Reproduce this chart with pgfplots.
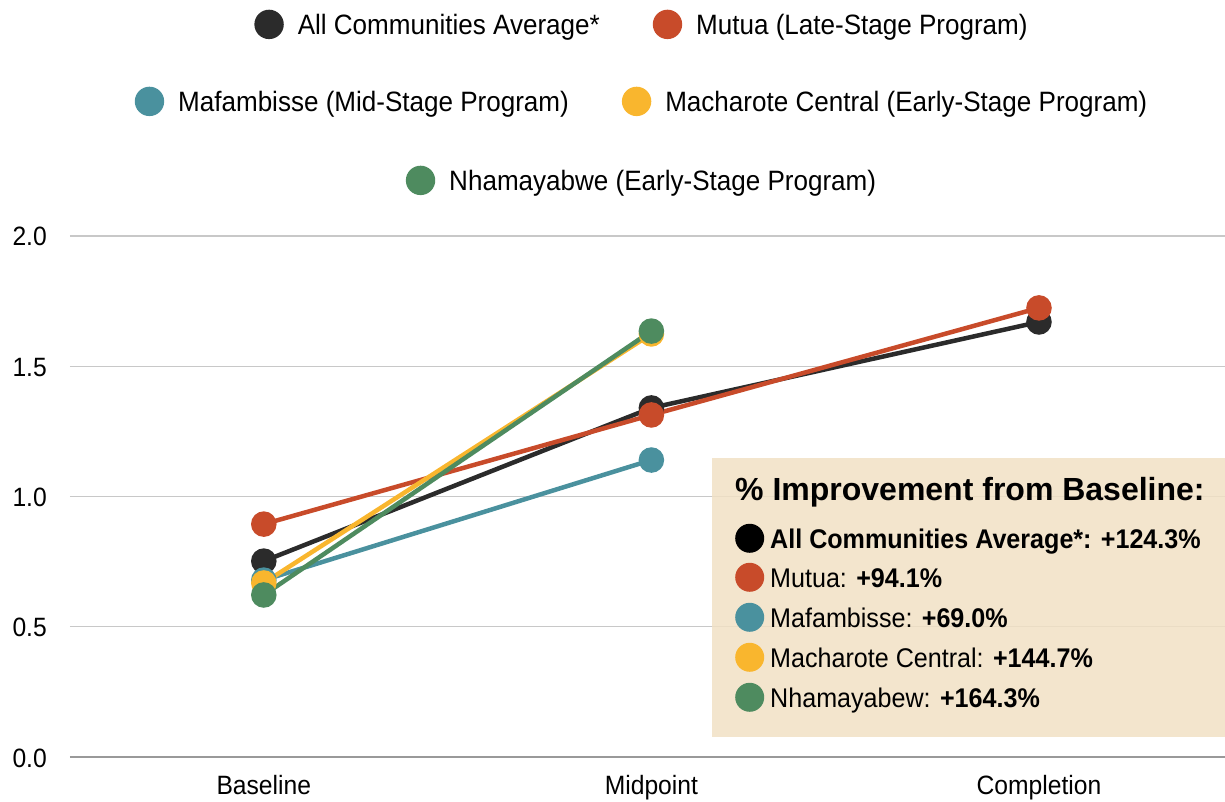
\documentclass[border=0pt]{standalone}
\usepackage{fontspec}
\setmainfont{Liberation Sans}[FakeStretch=0.93]
\newfontfamily\titlefont{Liberation Sans}
\usepackage{pgfplots}
\pgfplotsset{compat=1.18}
\definecolor{cAvg}{HTML}{2B2B2B}
\definecolor{cMut}{HTML}{C84B2A}
\definecolor{cMaf}{HTML}{4A919E}
\definecolor{cMac}{HTML}{F9B62E}
\definecolor{cNha}{HTML}{4E8B5F}
\definecolor{gridc}{HTML}{C8C8C8}
\definecolor{boxc}{HTML}{F1E0C4}
\newcommand{\legcirc}[2]{\tikz[baseline=-0.36em]\fill[#1] (0,0) circle (#2);}
\begin{document}
\begin{tikzpicture}[x=1pt,y=1pt]
\path[use as bounding box] (0,0) rectangle (1225,801);
\begin{axis}[
  at={(70pt,44pt)}, anchor=south west,
  scale only axis, width=1155pt, height=521pt,
  xmin=-0.5, xmax=2.48, ymin=0, ymax=2,
  clip=false,
  xtick={0,1,2}, xticklabels={Baseline,Midpoint,Completion},
  ytick={0,0.5,1,1.5,2},
  ymajorgrids, grid style={draw=gridc, line width=1.3pt},
  separate axis lines,
  axis x line*=bottom, axis y line*=left,
  x axis line style={draw=gray!80, line width=1.6pt, -},
  y axis line style={draw=none},
  major tick length=0pt,
  tick label style={font=\fontsize{26.5}{30}\selectfont, inner sep=0pt},
  yticklabel style={anchor=base east, xshift=-23pt, yshift=-10pt},
  xticklabel style={anchor=base, yshift=-37pt},
  /pgf/number format/assume math mode=true,
  yticklabel={\pgfmathprintnumber[fixed,precision=1,fixed zerofill]{\tick}},
]
\addplot[cAvg, line width=4.5pt, mark=*, mark size=10.5pt, mark options={draw=none, fill=cAvg}]
  coordinates {(0,0.752) (1,1.340) (2,1.670)};
\addplot[cMut, line width=4.5pt, mark=*, mark size=10.5pt, mark options={draw=none, fill=cMut}]
  coordinates {(0,0.894) (1,1.313) (2,1.724)};
\addplot[cMaf, line width=4.5pt, mark=*, mark size=10.5pt, mark options={draw=none, fill=cMaf}]
  coordinates {(0,0.679) (1,1.140)};
\addplot[cMac, line width=4.5pt, mark=*, mark size=10.5pt, mark options={draw=none, fill=cMac}]
  coordinates {(0,0.668) (1,1.624)};
\addplot[cNha, line width=4.5pt, mark=*, mark size=10.5pt, mark options={draw=none, fill=cNha}]
  coordinates {(0,0.622) (1,1.635)};
\end{axis}
% legend
\node[font=\fontsize{28}{32}\selectfont] at (641,776)
  {\legcirc{cAvg}{14.7pt}\hspace{14pt}All Communities Average*\hspace{53pt}\legcirc{cMut}{14.7pt}\hspace{14pt}Mutua (Late-Stage Program)};
\node[font=\fontsize{28}{32}\selectfont] at (641,699)
  {\legcirc{cMaf}{14.7pt}\hspace{14pt}Mafambisse (Mid-Stage Program)\hspace{53pt}\legcirc{cMac}{14.7pt}\hspace{14pt}Macharote Central (Early-Stage Program)};
\node[font=\fontsize{28}{32}\selectfont] at (641,620)
  {\legcirc{cNha}{14.7pt}\hspace{14pt}Nhamayabwe (Early-Stage Program)};
% annotation box
\fill[boxc, fill opacity=0.85] (712,64) rectangle (1225,343);
\node[anchor=base west, inner sep=0pt, font=\fontsize{32}{36}\selectfont\titlefont\bfseries] at (735,301) {\% Improvement from Baseline:};
\node[anchor=base west, inner sep=0pt, font=\fontsize{27}{32}\selectfont] at (735,253) {\legcirc{black}{14.5pt}\hspace{6pt}\textbf{All Communities Average*: +124.3\%}};
\node[anchor=base west, inner sep=0pt, font=\fontsize{27}{32}\selectfont] at (735,214) {\legcirc{cMut}{14.5pt}\hspace{6pt}Mutua: \textbf{+94.1\%}};
\node[anchor=base west, inner sep=0pt, font=\fontsize{27}{32}\selectfont] at (735,174) {\legcirc{cMaf}{14.5pt}\hspace{6pt}Mafambisse: \textbf{+69.0\%}};
\node[anchor=base west, inner sep=0pt, font=\fontsize{27}{32}\selectfont] at (735,134) {\legcirc{cMac}{14.5pt}\hspace{6pt}Macharote Central: \textbf{+144.7\%}};
\node[anchor=base west, inner sep=0pt, font=\fontsize{27}{32}\selectfont] at (735,94) {\legcirc{cNha}{14.5pt}\hspace{6pt}Nhamayabew: \textbf{+164.3\%}};
\end{tikzpicture}
\end{document}
